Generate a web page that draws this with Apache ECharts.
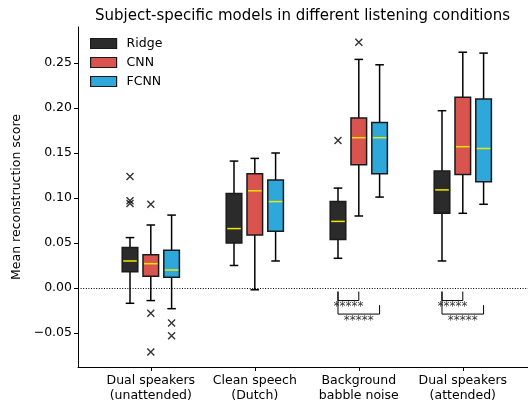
<!DOCTYPE html>
<html><head><meta charset="utf-8">
<script src="https://cdn.jsdelivr.net/npm/echarts@6/dist/echarts.min.js"></script>
<style>html,body{margin:0;padding:0;background:#fff}#c{width:528px;height:405px}</style>
</head><body><div id="c"></div>
<script>
// ---------------- data ----------------
const categories = ['Dual speakers\n(unattended)', 'Clean speech\n(Dutch)', 'Background\nbabble noise', 'Dual speakers\n(attended)'];
const seriesNames = ['Ridge', 'CNN', 'FCNN'];
// [lowerWhisker, Q1, median, Q3, upperWhisker] per category
const ridgeStats = [
  [-0.017, 0.018, 0.030, 0.045, 0.056],
  [0.025, 0.050, 0.066, 0.105, 0.141],
  [0.033, 0.054, 0.074, 0.096, 0.111],
  [0.030, 0.083, 0.109, 0.130, 0.197]
];
const cnnStats = [
  [-0.014, 0.013, 0.027, 0.037, 0.070],
  [-0.002, 0.059, 0.108, 0.127, 0.144],
  [0.080, 0.137, 0.167, 0.189, 0.254],
  [0.083, 0.126, 0.157, 0.212, 0.262]
];
const fcnnStats = [
  [-0.023, 0.012, 0.020, 0.042, 0.081],
  [0.030, 0.063, 0.096, 0.120, 0.150],
  [0.101, 0.127, 0.167, 0.184, 0.248],
  [0.093, 0.118, 0.155, 0.210, 0.261]
];
// outliers: [categoryIndex, value]
const ridgeOutliers = [[0, 0.124], [0, 0.097], [0, 0.094], [2, 0.164]];
const cnnOutliers = [[0, 0.093], [0, -0.028], [0, -0.071], [2, 0.273]];
const fcnnOutliers = [[0, -0.039], [0, -0.053]];
// significance tests: [categoryIndex, seriesA, seriesB, label]
const sigTests = [
  [2, 0, 1, '*****'], [2, 0, 2, '*****'],
  [3, 0, 1, '*****'], [3, 0, 2, '*****']
];
const yTicks = [-0.05, 0, 0.05, 0.10, 0.15, 0.20, 0.25];
const xTicks = [0, 1, 2, 3];

// ---------------- layout / style ----------------
const colors = ['#2b2b2b', '#d9534f', '#2ea7db'];
const edge = '#1a1a1a';
const offsets = [-0.2, 0, 0.2];
const boxW = 0.15;
const FONT = 'DejaVu Sans';
const allStats = [ridgeStats, cnnStats, fcnnStats];
const allOutliers = [ridgeOutliers, cnnOutliers, fcnnOutliers];

function boxRender(si) {
  return function (params, api) {
    const x = api.value(0) + offsets[si];
    const lo = api.coord([x, api.value(1)]);
    const q1 = api.coord([x, api.value(2)]);
    const md = api.coord([x, api.value(3)]);
    const q3 = api.coord([x, api.value(4)]);
    const hi = api.coord([x, api.value(5)]);
    const w = api.size([boxW, 0])[0];
    const cw = w * 0.55;
    const ls = { stroke: '#000', lineWidth: 1.5 };
    return {
      type: 'group',
      children: [
        { type: 'line', shape: { x1: lo[0], y1: lo[1], x2: q1[0], y2: q1[1] }, style: ls },
        { type: 'line', shape: { x1: q3[0], y1: q3[1], x2: hi[0], y2: hi[1] }, style: ls },
        { type: 'line', shape: { x1: lo[0] - cw / 2, y1: lo[1], x2: lo[0] + cw / 2, y2: lo[1] }, style: ls },
        { type: 'line', shape: { x1: hi[0] - cw / 2, y1: hi[1], x2: hi[0] + cw / 2, y2: hi[1] }, style: ls },
        { type: 'rect', shape: { x: q3[0] - w / 2, y: q3[1], width: w, height: q1[1] - q3[1] },
          style: { fill: colors[si], stroke: edge, lineWidth: 1.5 } },
        { type: 'line', shape: { x1: md[0] - w / 2 + 1, y1: md[1], x2: md[0] + w / 2 - 1, y2: md[1] },
          style: { stroke: '#f2e600', lineWidth: 1.5 } }
      ]
    };
  };
}

const series = [];
for (let si = 0; si < 3; si++) {
  series.push({
    name: seriesNames[si],
    type: 'custom',
    renderItem: boxRender(si),
    itemStyle: { color: colors[si], borderColor: edge, borderWidth: 1.2 },
    encode: { x: 0, y: [1, 2, 3, 4, 5] },
    data: allStats[si].map((s, ci) => [ci, ...s]),
    z: 3
  });
}
for (let si = 0; si < 3; si++) {
  series.push({
    name: seriesNames[si] + ' outliers',
    type: 'scatter',
    symbol: 'path://M0,0L10,10M10,0L0,10',
    symbolSize: 7,
    itemStyle: { color: 'transparent', borderColor: '#000', borderWidth: 1.4 },
    data: allOutliers[si].map(o => [o[0] + offsets[si], o[1]]),
    z: 4,
    silent: true
  });
}
// zero line
series.push({
  type: 'line', data: [], silent: true,
  markLine: {
    silent: true, symbol: 'none', label: { show: false },
    lineStyle: { color: '#000', type: [1, 1.6], width: 1 },
    data: [{ yAxis: 0 }]
  },
  z: 1
});
// significance brackets
const lvl = [
  { top: -0.004, topR: -0.004, bottom: -0.014, text: -0.019 },
  { top: -0.004, topR: -0.019, bottom: -0.029, text: -0.034 }
];
series.push({
  type: 'custom',
  silent: true,
  data: sigTests.map((t, i) => [t[0], t[1], t[2], i % 2]),
  renderItem: function (params, api) {
    const t = sigTests[params.dataIndex];
    const L = lvl[params.dataIndex % 2];
    const xa = t[0] + offsets[t[1]], xb = t[0] + offsets[t[2]];
    const p1 = api.coord([xa, L.top]), p2 = api.coord([xa, L.bottom]);
    const p3 = api.coord([xb, L.bottom]), p4 = api.coord([xb, L.topR]);
    const pt = api.coord([(xa + xb) / 2, L.text]);
    return {
      type: 'group',
      children: [
        { type: 'polyline', shape: { points: [p1, p2, p3, p4] },
          style: { stroke: '#000', lineWidth: 1, fill: null } },
        { type: 'text', x: pt[0], y: pt[1] + 2,
          style: { text: t[3], fill: '#333', font: '12px "DejaVu Sans"', align: 'center', verticalAlign: 'middle' } }
      ]
    };
  },
  z: 5
});

const fmtY = v => (v < 0 ? '\u2212' : '') + Math.abs(v).toFixed(2);

const option = {
  animation: false,
  backgroundColor: '#fff',
  textStyle: { fontFamily: FONT },
  title: {
    text: 'Subject-specific models in different listening conditions',
    left: 90, top: 4,
    textStyle: { fontFamily: FONT, fontSize: 15, fontWeight: 'normal', color: '#000' }
  },
  legend: {
    data: seriesNames,
    orient: 'vertical', left: 90, top: 37, padding: 0,
    itemWidth: 26, itemHeight: 10, itemGap: 6,
    icon: 'rect',
    itemStyle: { borderColor: edge, borderWidth: 1.2 },
    textStyle: { fontFamily: FONT, fontSize: 12.5, color: '#000', padding: [0, 0, 0, 5] },
    selectedMode: false
  },
  grid: { left: 78, right: 0, top: 27, bottom: 38, containLabel: false },
  xAxis: {
    type: 'value', min: -0.7, max: 3.627,
    axisLine: { onZero: false, lineStyle: { color: '#000', width: 1 } },
    axisTick: { customValues: xTicks, length: 4, lineStyle: { color: '#000' } },
    axisLabel: {
      customValues: xTicks,
      formatter: v => categories[Math.round(v)],
      fontFamily: FONT, fontSize: 12.5, color: '#000', lineHeight: 15, margin: 6
    },
    splitLine: { show: false }
  },
  yAxis: {
    type: 'value', min: -0.0878, max: 0.29,
    name: 'Mean reconstruction score', nameLocation: 'middle', nameGap: 54, nameRotate: 90,
    nameTextStyle: { fontFamily: FONT, fontSize: 12.5, color: '#000' },
    axisLine: { show: true, onZero: false, lineStyle: { color: '#000', width: 1 } },
    axisTick: { show: true, customValues: yTicks, length: 4, lineStyle: { color: '#000' } },
    axisLabel: { customValues: yTicks, formatter: fmtY, fontFamily: FONT, fontSize: 12.5, color: '#000', margin: 6 },
    splitLine: { show: false }
  },
  series: series
};
const chart = echarts.init(document.getElementById('c'), null, { renderer: 'canvas' });
chart.setOption(option);
</script>
</body></html>
